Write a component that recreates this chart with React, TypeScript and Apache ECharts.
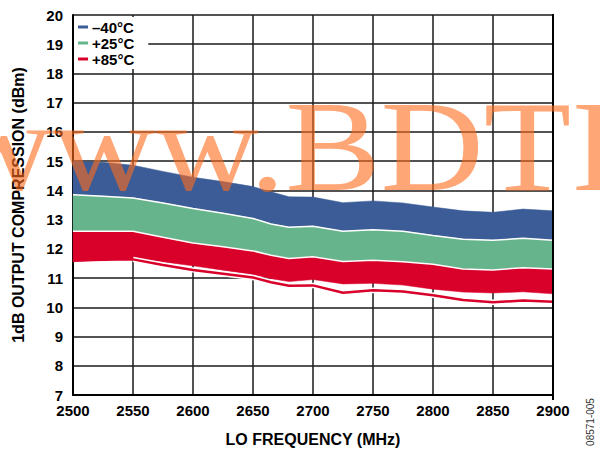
import React, { useEffect, useRef } from "react";
import * as echarts from "echarts";

const freq = [2500, 2525, 2550, 2575, 2600, 2625, 2650, 2665, 2680, 2700, 2725, 2750, 2775, 2800, 2825, 2850, 2875, 2900];
const m40Top = [15.0, 14.96, 14.86, 14.65, 14.45, 14.3, 14.13, 13.95, 13.78, 13.77, 13.58, 13.64, 13.57, 13.43, 13.3, 13.25, 13.36, 13.3];
const m40Bot = [13.85, 13.8, 13.74, 13.57, 13.38, 13.22, 13.04, 12.85, 12.74, 12.77, 12.6, 12.65, 12.6, 12.46, 12.33, 12.29, 12.36, 12.29];
const p25Bot = [12.6, 12.6, 12.6, 12.4, 12.2, 12.07, 11.93, 11.78, 11.67, 11.73, 11.57, 11.61, 11.56, 11.47, 11.31, 11.28, 11.35, 11.31];
const p85Bot = [11.56, 11.62, 11.68, 11.55, 11.42, 11.27, 11.12, 10.98, 10.88, 10.95, 10.8, 10.82, 10.76, 10.62, 10.52, 10.49, 10.53, 10.46];
const p85Low = [11.6, 11.63, 11.64, 11.45, 11.28, 11.15, 11.02, 10.86, 10.74, 10.75, 10.5, 10.58, 10.54, 10.41, 10.25, 10.17, 10.23, 10.19];

const xTicks = { min: 2500, max: 2900, interval: 50 };
const yTicks = { min: 7, max: 20, interval: 1 };
const legendNames = ["–40°C", "+25°C", "+85°C"];

const BLUE = "#3B5C96";
const GREEN = "#66B48C";
const RED = "#D9002A";
const FONT = "Liberation Sans, Arial, sans-serif";

function band(name: string, top: number[], bot: number[], color: string, z: number) {
  return {
    type: "custom",
    name,
    z,
    coordinateSystem: "cartesian2d",
    itemStyle: { color },
    data: [[freq[0], top[0]]],
    renderItem: (_p: any, api: any) => {
      const pts: number[][] = [];
      for (let i = 0; i < freq.length; i++) pts.push(api.coord([freq[i], top[i]]));
      for (let i = freq.length - 1; i >= 0; i--) pts.push(api.coord([freq[i], bot[i]]));
      return { type: "polygon", shape: { points: pts }, style: { fill: color, stroke: color, lineWidth: 0.5 } };
    },
  };
}

function line(vals: (number | null)[], color: string, width: number, z: number) {
  return {
    type: "line",
    z,
    data: freq.map((f, i) => [f, vals[i]]),
    showSymbol: false,
    symbol: "none",
    silent: true,
    connectNulls: false,
    lineStyle: { color, width },
  };
}

export default function App() {
  const ref = useRef<HTMLDivElement>(null);
  useEffect(() => {
    if (!ref.current) return;
    const chart = echarts.init(ref.current, undefined, { renderer: "svg" });
    const lowWhite = p85Low.map((v, i) => (i < 2 ? null : v));
    chart.setOption({
      animation: false,
      backgroundColor: "#fff",
      grid: { left: 73, right: 47, top: 15, bottom: 53, show: false },
      legend: {
        left: 74,
        top: 17,
        orient: "vertical",
        backgroundColor: "#fff",
        padding: [2, 14, 2, 4],
        itemGap: 0,
        itemWidth: 10,
        itemHeight: 3,
        icon: "rect",
        z: 10,
        textStyle: { fontFamily: FONT, fontWeight: "bold", fontSize: 15, color: "#000", lineHeight: 16, padding: [0, 0, 0, -1] },
        data: legendNames,
      },
      xAxis: {
        type: "value",
        ...xTicks,
        name: "LO FREQUENCY (MHz)",
        nameLocation: "middle",
        nameGap: 36,
        nameTextStyle: { fontFamily: FONT, fontWeight: "bold", fontSize: 16, color: "#000" },
        axisLine: { show: true, onZero: false, lineStyle: { color: "#000", width: 2 } },
        axisTick: { show: false },
        axisLabel: { fontFamily: FONT, fontWeight: "bold", fontSize: 15, color: "#000", margin: 8, formatter: (v: number) => String(v) },
        splitLine: { show: true, lineStyle: { color: "#1a1a1a", width: 1.5 } },
      },
      yAxis: {
        type: "value",
        ...yTicks,
        name: "1dB OUTPUT COMPRESSION (dBm)",
        nameLocation: "middle",
        nameGap: 47,
        nameTextStyle: { fontFamily: FONT, fontWeight: "bold", fontSize: 16, color: "#000" },
        axisLine: { show: true, lineStyle: { color: "#000", width: 2 } },
        axisTick: { show: false },
        axisLabel: { fontFamily: FONT, fontWeight: "bold", fontSize: 15, color: "#000", margin: 10 },
        splitLine: { show: true, lineStyle: { color: "#1a1a1a", width: 1.5 } },
      },
      series: [
        band(legendNames[0], m40Top, m40Bot, BLUE, 2),
        band(legendNames[1], m40Bot, p25Bot, GREEN, 3),
        band(legendNames[2], p25Bot, p85Bot, RED, 4),
        line(m40Bot, "#fff", 1.5, 5),
        line(p25Bot, "#fff", 1.5, 5),
        line(lowWhite, "#fff", 5.5, 5),
        line(p85Low, RED, 2.5, 6),
      ],
      graphic: [
        {
          type: "rect",
          z: 50,
          shape: { x: 552, y: 14, width: 2, height: 386 },
          style: { fill: "#000" },
        },
        {
          type: "text",
          z: 100,
          x: -51,
          y: 146,
          scaleX: 1.1,
          silent: true,
          style: {
            text: "www.BDTIC.com",
            font: "normal 130px 'Liberation Serif', 'Times New Roman', serif",
            fill: "#FF6A1A",
            opacity: 0.6,
            align: "left",
            verticalAlign: "middle",
          },
        },
        {
          type: "text",
          z: 100,
          x: 590,
          y: 422,
          rotation: Math.PI / 2,
          style: {
            text: "08571-005",
            font: "normal 10px 'Liberation Sans', Arial, sans-serif",
            fill: "#333",
            align: "center",
            verticalAlign: "middle",
          },
        },
      ],
    });
    return () => chart.dispose();
  }, []);
  return <div ref={ref} style={{ position: "absolute", left: 0, top: 0, width: 600, height: 452 }} />;
}
